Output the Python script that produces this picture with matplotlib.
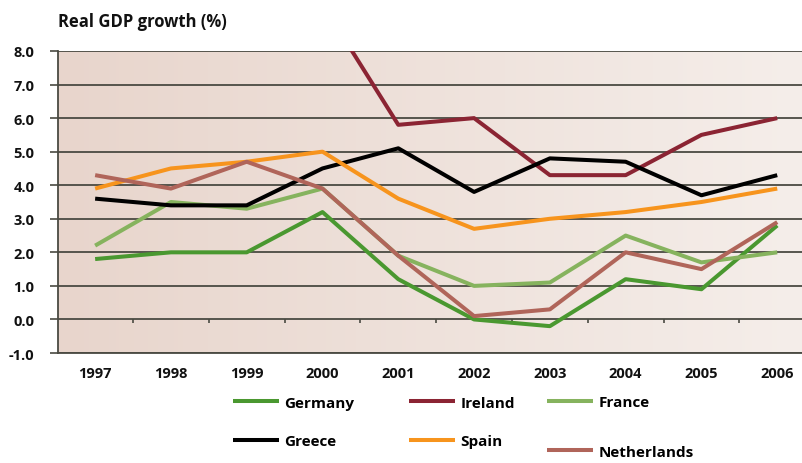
import matplotlib
matplotlib.use("Agg")
import matplotlib.pyplot as plt
import numpy as np

# data
years = ["1997", "1998", "1999", "2000", "2001", "2002", "2003", "2004", "2005", "2006"]
germany = [1.8, 2.0, 2.0, 3.2, 1.2, 0.0, -0.2, 1.2, 0.9, 2.8]
ireland = [np.nan, np.nan, np.nan, 9.4, 5.8, 6.0, 4.3, 4.3, 5.5, 6.0]
france = [2.2, 3.5, 3.3, 3.9, 1.9, 1.0, 1.1, 2.5, 1.7, 2.0]
greece = [3.6, 3.4, 3.4, 4.5, 5.1, 3.8, 4.8, 4.7, 3.7, 4.3]
spain = [3.9, 4.5, 4.7, 5.0, 3.6, 2.7, 3.0, 3.2, 3.5, 3.9]
netherlands = [4.3, 3.9, 4.7, 3.9, 1.9, 0.1, 0.3, 2.0, 1.5, 2.9]
y_ticks = [-1, 0, 1, 2, 3, 4, 5, 6, 7, 8]

plt.rcParams["font.family"] = ["Open Sans", "DejaVu Sans"]
plt.rcParams["font.weight"] = "bold"

W, H = 803, 464
fig = plt.figure(figsize=(W / 100, H / 100), dpi=100)
ax = fig.add_axes([58 / W, 1 - 354 / H, (W - 58) / W, (354 - 52) / H])

x = np.arange(len(years))
ax.set_xlim(-0.49, len(years) - 1 + 0.34)
ax.set_ylim(-1, 8)

# horizontal gradient background
grad = np.linspace(0, 1, 256).reshape(1, -1)
left_c = np.array([232, 213, 204]) / 255
right_c = np.array([245, 238, 234]) / 255
img = left_c[None, None, :] * (1 - grad[..., None]) + right_c[None, None, :] * grad[..., None]
ax.imshow(img, extent=[0, 1, 0, 1], transform=ax.transAxes, aspect="auto", zorder=0)

for v in y_ticks:
    ax.axhline(v, color="#4a4a42", lw=1.3, zorder=1)

# small marks between categories on the zero line
ax.vlines(x[:-1] + 0.5, -0.12, 0, color="#4a4a42", lw=1.2, zorder=1)

series = [
    ("Germany", germany, "#4a9830"),
    ("Ireland", ireland, "#8b2433"),
    ("France", france, "#86b35e"),
    ("Greece", greece, "#000000"),
    ("Spain", spain, "#f7941d"),
    ("Netherlands", netherlands, "#b0655a"),
]
lines = {}
for name, vals, col in series:
    (ln,) = ax.plot(x, vals, color=col, lw=2.9, solid_capstyle="butt", zorder=3)
    lines[name] = ln

ax.set_xticks(x)
ax.set_xticklabels(years)
ax.set_yticks(y_ticks)
ax.set_yticklabels([f"{v:.1f}" for v in y_ticks])
ax.tick_params(axis="x", length=0, pad=9, labelsize=10.5, colors="#111111")
ax.tick_params(axis="y", length=6, width=1.2, pad=11, labelsize=10.5,
               color="#4a4a42", labelcolor="#111111")

for s in ["top", "right"]:
    ax.spines[s].set_visible(False)
ax.spines["left"].set_color("#4a4a42")
ax.spines["left"].set_linewidth(1.3)
ax.spines["bottom"].set_color("#4a4a42")
ax.spines["bottom"].set_linewidth(1.3)

fig.text(58 / W, 1 - 22 / H, "Real GDP growth (%)", fontsize=12, fontweight="bold",
         va="center", ha="left", color="#111111")

# legend laid out as three columns
cols = [
    (["Germany", "Greece"], 233, 423, 1.6),
    (["Ireland", "Spain"], 409, 423, 1.6),
    (["France", "Netherlands"], 547, 428, 2.3),
]
for names, lx, ly, sp in cols:
    fig.legend([lines[n] for n in names], names, loc="center left",
               bbox_to_anchor=(lx / W, 1 - ly / H), frameon=False,
               borderpad=0, borderaxespad=0, handlelength=3.0,
               handletextpad=0.35, labelspacing=sp, fontsize=11)

fig.savefig("out.png", dpi=100)
